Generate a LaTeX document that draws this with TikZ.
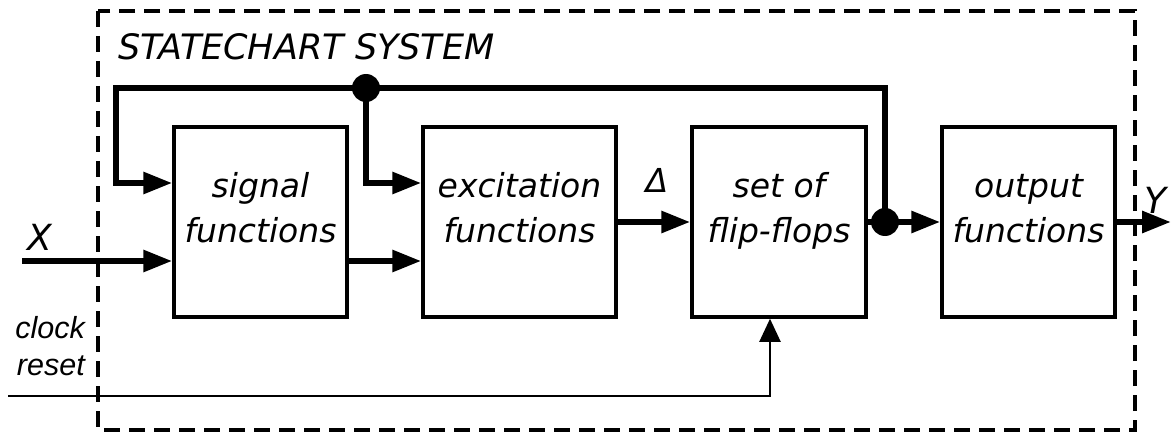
\documentclass[tikz,border=0pt]{standalone}
\usepackage{fontspec}
\setmainfont{DejaVu Sans}
\newfontfamily\arialfont{Liberation Sans}
\usetikzlibrary{arrows.meta}
\newcommand\boxfnt{\fontsize{33}{40}\selectfont\itshape}
\newcommand\titlefnt{\fontsize{35}{40}\selectfont\itshape}
\newcommand\iofnt{\fontsize{36}{40}\selectfont\itshape}
\newcommand\clkfnt{\arialfont\fontsize{30.5}{34}\selectfont\itshape}
\begin{document}
\begin{tikzpicture}[x=1pt,y=-1pt,
  bus/.style={line width=6pt},
  busarrow/.style={bus,-{Triangle[length=29pt,width=21pt]}},
  thinarrow/.style={line width=2pt,-{Triangle[length=23pt,width=21pt]}},
  blk/.style={draw,line width=3.5pt,minimum height=190pt,inner sep=0pt},
  lbl/.style={font=\boxfnt,anchor=base,inner sep=0pt},
  junction/.style={circle,fill,minimum size=28pt,inner sep=0pt},
  sysframe/.style={line width=4pt,dash pattern=on 16pt off 9pt}]
\useasboundingbox (0,0) rectangle (1173,433);
% system frame
\draw[sysframe] (98,11) rectangle (1135,430);
\node[font=\titlefnt,anchor=base west,inner sep=0pt] (title) at (118,60) {STATECHART SYSTEM};
% blocks
\node[blk,minimum width=173pt] (sig) at (260.5,222) {};
\node[blk,minimum width=193pt] (exc) at (519.5,222) {};
\node[blk,minimum width=174pt] (ff) at (779,222) {};
\node[blk,minimum width=173pt] (out) at (1028.5,222) {};
\node[lbl] (sig1) at (260.5,197) {signal};
\node[lbl] (sig2) at (260.5,242) {functions};
\node[lbl] (exc1) at (519.5,197) {excitation};
\node[lbl] (exc2) at (519.5,242) {functions};
\node[lbl] (ff1) at (779,197) {set of};
\node[lbl] (ff2) at (779,242) {flip-flops};
\node[lbl] (out1) at (1028.5,197) {output};
\node[lbl] (out2) at (1028.5,242) {functions};
% helper coordinates
\coordinate (up) at (0,183);
\coordinate (lo) at (0,261);
\coordinate (cj1) at (366,88);
\coordinate (cj2) at (885,222);
\coordinate (fbL) at (116,88);
\coordinate (fbR) at (885,88);
\coordinate (xin) at (22,261);
\coordinate (yout) at (1171,222);
\coordinate (rst) at (8,396);
\coordinate (rstup) at (770,396);
% connectors
\draw[busarrow] (cj2) -- (fbR) -- (fbL) |- (sig.west |- up);
\draw[busarrow] (cj1) |- (exc.west |- up);
\draw[busarrow] (xin) -- (sig.west |- lo);
\draw[busarrow] (sig.east |- lo) -- (exc.west |- lo);
\draw[busarrow] (exc.east) -- (ff.west);
\draw[busarrow] (ff.east) -- (out.west);
\draw[busarrow] (out.east) -- (yout);
\draw[thinarrow] (rst) -- (rstup) -- (rstup |- ff.south);
\node[junction] (j1) at (cj1) {};
\node[junction] (j2) at (cj2) {};
% io labels
\node[font=\boxfnt,anchor=base,inner sep=0pt] (delta) at (657,193) {Δ};
\node[font=\iofnt,anchor=base west,inner sep=0pt] (xl) at (27,250) {X};
\node[font=\iofnt,anchor=base west,inner sep=0pt] (yl) at (1144,213) {Y};
\node[font=\clkfnt,anchor=base east,inner sep=0pt] (clk) at (85,338) {clock};
\node[font=\clkfnt,anchor=base east,inner sep=0pt] (rs) at (85,375) {reset};
\end{tikzpicture}
\end{document}
